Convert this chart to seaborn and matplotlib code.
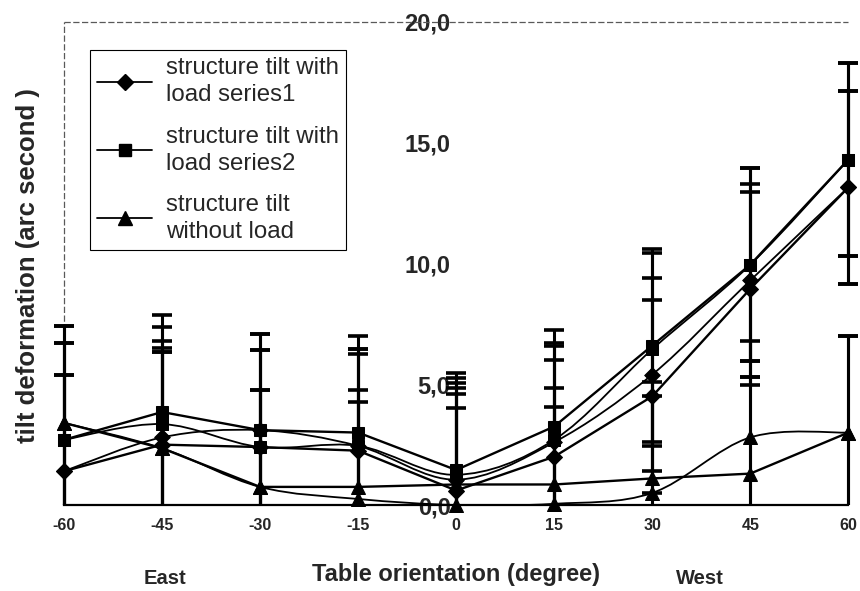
import numpy as np
import matplotlib
matplotlib.use("Agg")
import matplotlib.pyplot as plt
import seaborn as sns
from matplotlib.path import Path
from matplotlib.patches import PathPatch, Rectangle
from matplotlib.lines import Line2D

# table orientation (degree)
angles = [-60, -45, -30, -15, 0, 15, 30, 45, 60]

# tilt deformation (arc second)
load1 = [1.4, 2.5, 2.4, 2.25, 0.6, 2.0, 4.5, 8.95, 13.15]
load1_smooth = [1.4, 2.8, 3.1, 2.45, 1.05, 2.6, 5.4, 9.3, 13.15]
load2 = [2.7, 3.85, 3.1, 3.0, 1.45, 3.25, 6.6, 9.95, 14.3]
load2_smooth = [2.7, 3.35, 2.4, 2.45, 1.25, 2.7, 6.45, 9.95, 14.3]
noload = [3.4, 2.35, 0.75, 0.75, 0.85, 0.85, 1.1, 1.3, 3.0]
noload_smooth = [3.4, 2.35, 0.75, 0.25, 0.0, 0.05, 0.5, 2.8, 3.0]
error = 4.0

labels = ["structure tilt with\nload series1",
          "structure tilt with\nload series2",
          "structure tilt\nwithout load"]
yticks = [0, 5, 10, 15, 20]
xticks = [-60, -45, -30, -15, 0, 15, 30, 45, 60]

sns.set_style("white")
plt.rcParams["font.family"] = ["Liberation Sans", "DejaVu Sans"]

fig = plt.figure(figsize=(8.6, 5.91), dpi=100)
ax = fig.add_axes([0.0744, 0.1455, 0.912, 0.8173])

# clip region: only cut at the x axis, not at the left/right edges
clip_rect = Rectangle((-70, 0), 140, 30, transform=ax.transData)


def smooth_path(xs, ys):
    # excel style smoothed line (catmull-rom as bezier)
    pts = np.column_stack([xs, ys]).astype(float)
    n = len(pts)
    verts = [pts[0]]
    codes = [Path.MOVETO]
    for i in range(n - 1):
        p0 = pts[max(i - 1, 0)]
        p1 = pts[i]
        p2 = pts[i + 1]
        p3 = pts[min(i + 2, n - 1)]
        verts += [p1 + (p2 - p0) / 6, p2 - (p3 - p1) / 6, p2]
        codes += [Path.CURVE4] * 3
    return Path(verts, codes)


def errbars(vals):
    cont = ax.errorbar(angles, vals, yerr=error, fmt="none", ecolor="black",
                       elinewidth=2.2, capsize=7, capthick=2.6, zorder=2)
    for art in list(cont.lines[1]) + list(cont.lines[2]):
        art.set_clip_path(clip_rect)


series = [
    (load1, load1_smooth, "D", 8),
    (load2, load2_smooth, "s", 9),
    (noload, noload_smooth, "^", 10),
]

handles = []
for (straight, smooth, mk, ms), lab in zip(series, labels):
    errbars(straight)
    errbars(smooth)
    sns.lineplot(x=angles, y=straight, color="black", lw=1.7, marker=mk,
                 markersize=ms, markeredgecolor="black", ax=ax, legend=False,
                 zorder=4)
    ax.lines[-1].set_clip_on(False)
    patch = PathPatch(smooth_path(angles, smooth), fill=False,
                      edgecolor="black", lw=1.3, zorder=3)
    ax.add_patch(patch)
    patch.set_clip_path(clip_rect)
    sns.scatterplot(x=angles, y=smooth, marker=mk, s=ms ** 2, color="black",
                    edgecolor="black", ax=ax, legend=False, zorder=5,
                    clip_on=False)
    handles.append(Line2D([], [], color="black", lw=1.3, marker=mk,
                          markersize=ms))

ax.set_xlim(-60, 60)
ax.set_ylim(0, 20)

# frame: dashed top/left, solid bottom, y labels at x = 0
for s in ["top", "right"]:
    ax.spines[s].set_visible(False)
ax.spines["left"].set_position(("data", 0))
ax.spines["left"].set_color("none")
ax.spines["bottom"].set_color("black")
ax.spines["bottom"].set_linewidth(1.6)
ax.spines["bottom"].set_zorder(6)
ax.plot([-60, 60], [20, 20], color="0.35", lw=0.9, ls=(0, (5, 2)),
        clip_on=False, zorder=1)
ax.plot([-60, -60], [0, 20], color="0.35", lw=0.9, ls=(0, (5, 2)),
        clip_on=False, zorder=1)

ax.set_yticks(yticks)
ax.set_yticklabels([f"{v:.1f}".replace(".", ",") for v in yticks],
                   fontsize=17, fontweight="bold")
ax.set_xticks(xticks)
ax.set_xticklabels([str(v) for v in xticks], fontsize=11.5, fontweight="bold")
ax.tick_params(axis="y", length=0, pad=4)
ax.tick_params(axis="x", length=0, pad=9)

ax.set_xlabel("Table orientation (degree)", fontsize=17, fontweight="bold",
              labelpad=22)
fig.text(28 / 860, 1 - 266 / 591, "tilt deformation (arc second )",
         fontsize=18.5, fontweight="bold", rotation=90, ha="center",
         va="center")

fig.text(165 / 860, 1 - 578 / 591, "East", fontsize=14.5, fontweight="bold",
         ha="center", va="center")
fig.text(700 / 860, 1 - 578 / 591, "West", fontsize=14.5, fontweight="bold",
         ha="center", va="center")

leg = ax.legend(handles, labels, loc="upper left",
                bbox_to_anchor=(90 / 860, 1 - 50 / 591),
                bbox_transform=fig.transFigure, fontsize=17.3, frameon=True,
                fancybox=False, edgecolor="black", framealpha=1,
                handlelength=2.3, handletextpad=0.55, labelspacing=0.8,
                borderpad=0.3, borderaxespad=0)
for t in leg.get_texts():
    t.set_linespacing(1.3)
leg.get_frame().set_linewidth(0.8)

fig.savefig("out.png", dpi=100)
